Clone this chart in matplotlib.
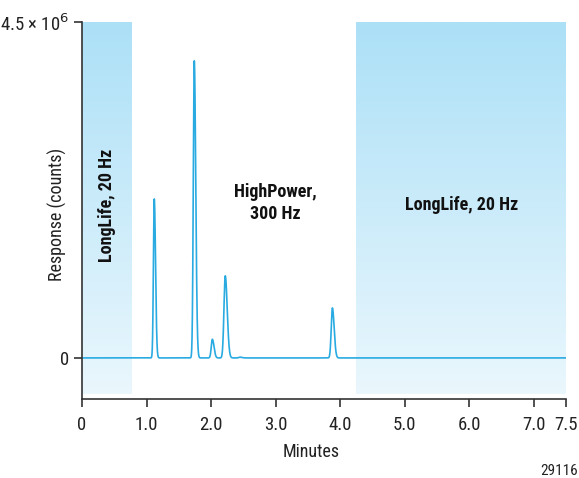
import numpy as np
import matplotlib
matplotlib.use("Agg")
import matplotlib.pyplot as plt
from matplotlib.colors import LinearSegmentedColormap

plt.rcParams['font.family'] = ['Roboto Condensed', 'Liberation Sans Narrow',
                               'Liberation Sans', 'DejaVu Sans']

# peak table (minutes, counts, width in minutes)
peak_times = [1.12, 1.74, 2.02, 2.22, 2.45, 3.88]
peak_heights = [2.13e6, 3.98e6, 0.25e6, 1.10e6, 0.01e6, 0.67e6]
peak_widths = [0.013, 0.015, 0.017, 0.02, 0.02, 0.018]

# acquisition segments (start, end, label)
segments = [(0.0, 0.76, 'LongLife, 20 Hz'), (4.25, 7.5, 'LongLife, 20 Hz')]
mid_label = 'HighPower,\n300 Hz'

x_ticks = [0, 1, 2, 3, 4, 5, 6, 7, 7.5]
x_labels = ['0', '1.0', '2.0', '3.0', '4.0', '5.0', '6.0', '7.0', '7.5']

line_col = '#29abe2'
axis_col = '#333333'
text_col = '#222222'

t = np.linspace(0, 7.5, 6000)
trace = np.zeros_like(t)
for t0, h, w in zip(peak_times, peak_heights, peak_widths):
    # slight tailing: wider on the right side
    s = np.where(t < t0, w, w * 1.5)
    trace += h * np.exp(-0.5 * ((t - t0) / s) ** 2)

fig = plt.figure(figsize=(5.79, 4.78), dpi=100)
ax = fig.add_axes([0.1416, 0.1653, 0.836, 0.7887])

ymin, ymax = -0.55e6, 4.5e6
grad = LinearSegmentedColormap.from_list('g', ['#eaf7fd', '#ace0f7'])
g = np.linspace(0, 1, 256).reshape(-1, 1)
for x0, x1, _ in segments:
    ax.imshow(g, cmap=grad, origin='lower', aspect='auto',
              extent=[x0, x1, -0.48e6, ymax], zorder=0)

ax.plot(t, trace, color=line_col, lw=1.2, zorder=2)

ax.set_xlim(0, 7.5)
ax.set_ylim(ymin, ymax)
ax.set_xticks(x_ticks)
ax.set_xticklabels(x_labels)
ax.set_yticks([0, 4.5e6])
ax.set_yticklabels(['0', r'4.5 × 10$^{6}$'])

for side in ['top', 'right']:
    ax.spines[side].set_visible(False)
for side in ['left', 'bottom']:
    ax.spines[side].set_color(axis_col)
    ax.spines[side].set_linewidth(1.2)
ax.tick_params(colors=axis_col, labelcolor=text_col, labelsize=13.5,
               length=6, width=1.2, direction='out')
ax.tick_params(axis='x', pad=6)
ax.tick_params(axis='y', pad=3)

ax.set_xlabel('Minutes', fontsize=13, color=text_col)
ax.xaxis.set_label_coords(0.474, -0.117)
ax.set_ylabel('Response (counts)', fontsize=13, color=text_col)
ax.yaxis.set_label_coords(-0.031, 0.49)

ax.text(0.39, 2.05e6, segments[0][2], rotation=90, ha='center', va='center',
        fontsize=13, fontweight='bold', color='#111111')
ax.text(5.89, 2.05e6, segments[1][2], ha='center', va='center',
        fontsize=13, fontweight='bold', color='#111111')
ax.text(2.99, 2.08e6, mid_label, ha='center', va='center',
        fontsize=13, fontweight='bold', linespacing=1.3, color='#111111')

fig.text(0.999, 0.0, '29116', ha='right', va='bottom', fontsize=11,
         color=text_col)

fig.savefig('out.png', dpi=100)
